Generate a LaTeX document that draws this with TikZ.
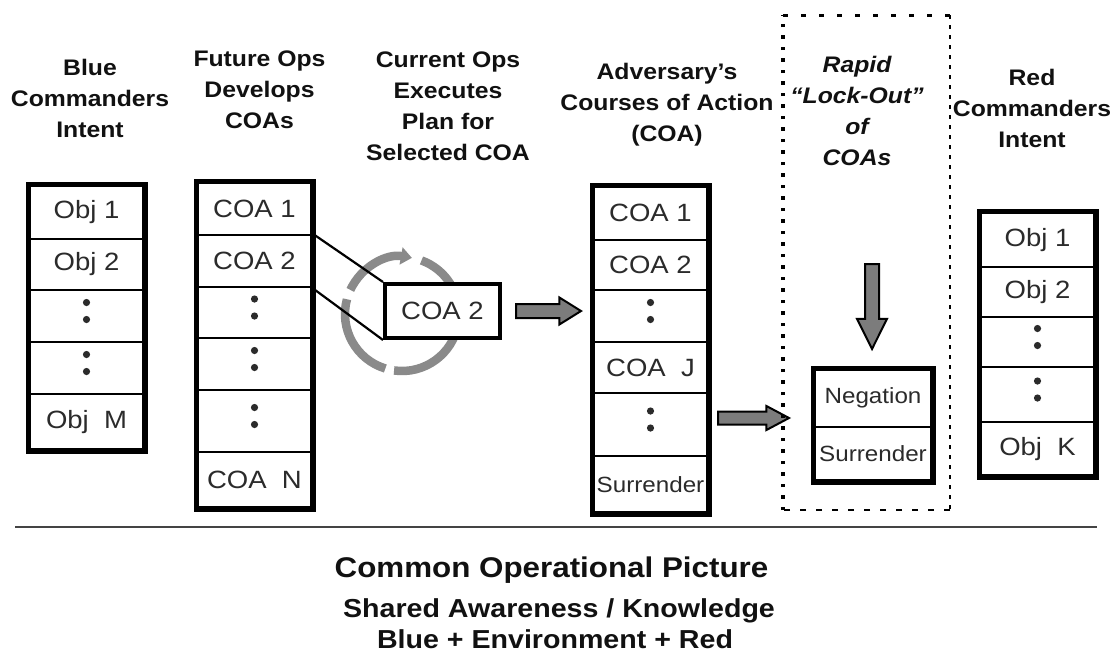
\documentclass[tikz,border=0pt]{standalone}
\usepackage{fontspec}
\setmainfont{Liberation Sans}[FakeStretch=1.1]
\usetikzlibrary{arrows.meta,shapes.arrows}
\definecolor{txt}{HTML}{2B2B2B}
\definecolor{ink}{HTML}{111111}
\definecolor{cyc}{HTML}{8A8A8A}
\definecolor{blk}{HTML}{7C7C7C}
\definecolor{rulec}{HTML}{444444}
% one row of a stacked list: [style]{name}{x centre}{top}{bottom}{text}
\newcommand\cell[6][]{\node[cell,#1,minimum height={#5-#4}] (#2) at (#3,{(#4+#5)/2}) {#6};}
\begin{document}
\begin{tikzpicture}[x=1pt,y=-1pt,
  cell/.style={draw=black,line width=2.5pt,minimum width=114pt,inner sep=0pt,fill=white,
    text=txt,font=\fontsize{25}{30}\selectfont},
  small/.style={font=\fontsize{22}{26}\selectfont},
  dots/.style={path picture={
    \fill[txt] ([yshift=13.5pt]path picture bounding box.center) circle[radius=3.6pt]
               ([yshift=-3.5pt]path picture bounding box.center) circle[radius=3.6pt];}},
  frame/.style={draw=black,line width=5.5pt},
  title/.style={align=center,text=ink,inner sep=0pt,anchor=base,
    font=\bfseries\fontsize{22.5}{31}\selectfont},
  blockarrow/.style={single arrow,draw=black,line width=2pt,fill=blk,
    minimum width=0pt,single arrow head indent=0pt,anchor=tail},
  cycle/.style={draw=cyc,line width=8.5pt},
  link/.style={draw=black,line width=2.2pt},
]
\useasboundingbox (0,0) rectangle (1120,657);

% ---- column titles (anchored on the baseline of their last line)
\node[title] (tBlue) at (90,137) {Blue\\Commanders\\Intent};
\node[title] (tFut) at (259.5,128) {Future Ops\\Develops\\COAs};
\node[title] (tCur) at (448,160) {Current Ops\\Executes\\Plan for\\Selected COA};
\node[title] (tAdv) at (667,141) {Adversary’s\\Courses of Action\\(COA)};
\node[title,font=\bfseries\itshape\fontsize{22.5}{31}\selectfont] (tLock) at (857,165) {Rapid\\“Lock-Out”\\of\\COAs};
\node[title] (tRed) at (1032,147) {Red\\Commanders\\Intent};

% ---- Blue commander's objectives
\cell{b1}{86.5}{185.5}{239}{Obj 1}
\cell{b2}{86.5}{239}{290}{Obj 2}
\cell[dots]{b3}{86.5}{290}{342}{}
\cell[dots]{b4}{86.5}{342}{394}{}
\cell{b5}{86.5}{394}{449.5}{Obj\ \ M}
\draw[frame] (b1.north west) rectangle (b5.south east);

% ---- Future Ops courses of action
\cell{f1}{254.5}{182.5}{235}{COA 1}
\cell{f2}{254.5}{235}{287}{COA 2}
\cell[dots]{f3}{254.5}{287}{338}{}
\cell[dots]{f4}{254.5}{338}{390}{}
\cell[dots]{f5}{254.5}{390}{452}{}
\cell{f6}{254.5}{452}{507.5}{COA\ \ N}
\draw[frame] (f1.north west) rectangle (f6.south east);

% ---- execution cycle round the selected COA
\coordinate (cc) at (402,314);
\draw[cycle,-{Triangle[length=11pt,width=17pt]}] ([shift={(-155:57)}]cc) arc[start angle=-155,end angle=-80,radius=57];
\draw[cycle] ([shift={(-70:57)}]cc) arc[start angle=-70,end angle=5,radius=57];
\draw[cycle] ([shift={(-165:57)}]cc) arc[start angle=-165,end angle=-253,radius=57];
\draw[cycle] ([shift={(-262:57)}]cc) arc[start angle=-262,end angle=-350,radius=57];

\node[cell,line width=4pt,minimum width=115pt,minimum height=54pt] (cur) at (442.5,311) {COA 2};
\draw[link] (f2.north east) -- (cur.north west);
\draw[link] (f2.south east) -- (cur.south west);

% ---- block arrows
\node[blockarrow,inner xsep=0pt,inner ysep=6pt,single arrow head extend=6.5pt,single arrow tip angle=64,minimum height=65pt] (ar1) at (515,311) {};
\node[blockarrow,inner xsep=0pt,inner ysep=5.5pt,single arrow head extend=5.5pt,single arrow tip angle=56,minimum height=71pt] (ar2) at (717,418) {};
\node[blockarrow,inner xsep=6pt,inner ysep=0pt,single arrow head extend=8pt,single arrow tip angle=53,minimum height=85pt,shape border rotate=270] (ar3) at (872,263) {};

% ---- adversary's courses of action
\cell{a1}{650.5}{186.5}{240}{COA 1}
\cell{a2}{650.5}{240}{290}{COA 2}
\cell[dots]{a3}{650.5}{290}{342}{}
\cell{a4}{650.5}{342}{393}{COA\ \ J}
\cell[dots]{a5}{650.5}{393}{456}{}
\cell[small]{a6}{650.5}{456}{512.5}{Surrender}
\draw[frame] (a1.north west) rectangle (a6.south east);

% ---- lock-out zone
\coordinate (lkNW) at (783,15);
\coordinate (lkNE) at (950,15);
\coordinate (lkSW) at (783,510);
\coordinate (lkSE) at (950,510);
\draw[line width=3.5pt,dash pattern=on 3.5pt off 8pt] (lkSW) -- (lkNW);
\draw[line width=3pt,dash pattern=on 5pt off 13pt] (lkNW) -- (lkNE);
\draw[line width=1.5pt,dash pattern=on 4pt off 6pt] (lkNE) -- (lkSE);
\draw[line width=2pt,dash pattern=on 6pt off 10pt] (lkSE) -- (lkSW);

\cell[small,minimum width=117pt]{n1}{873}{369.5}{427}{Negation}
\cell[small,minimum width=117pt]{n2}{873}{427}{480.5}{Surrender}
\draw[frame] (n1.north west) rectangle (n2.south east);

% ---- Red commander's objectives
\cell{r1}{1037.5}{212.5}{267}{Obj 1}
\cell{r2}{1037.5}{267}{317}{Obj 2}
\cell[dots]{r3}{1037.5}{317}{367}{}
\cell[dots]{r4}{1037.5}{367}{422}{}
\cell{r5}{1037.5}{422}{475.5}{Obj\ \ K}
\draw[frame] (r1.north west) rectangle (r5.south east);

% ---- common operational picture
\coordinate (ruleL) at (15,527);
\coordinate (ruleR) at (1097,527);
\draw[rulec,line width=2.2pt] (ruleL) -- (ruleR);
\node[title,font=\bfseries\fontsize{28.5}{34}\selectfont] (cop1) at (551.5,577) {Common Operational Picture};
\node[title,font=\bfseries\fontsize{26}{30}\selectfont] (cop2) at (559,617) {Shared Awareness / Knowledge};
\node[title,font=\bfseries\fontsize{26}{30}\selectfont] (cop3) at (555,648) {Blue + Environment + Red};
\end{tikzpicture}
\end{document}
